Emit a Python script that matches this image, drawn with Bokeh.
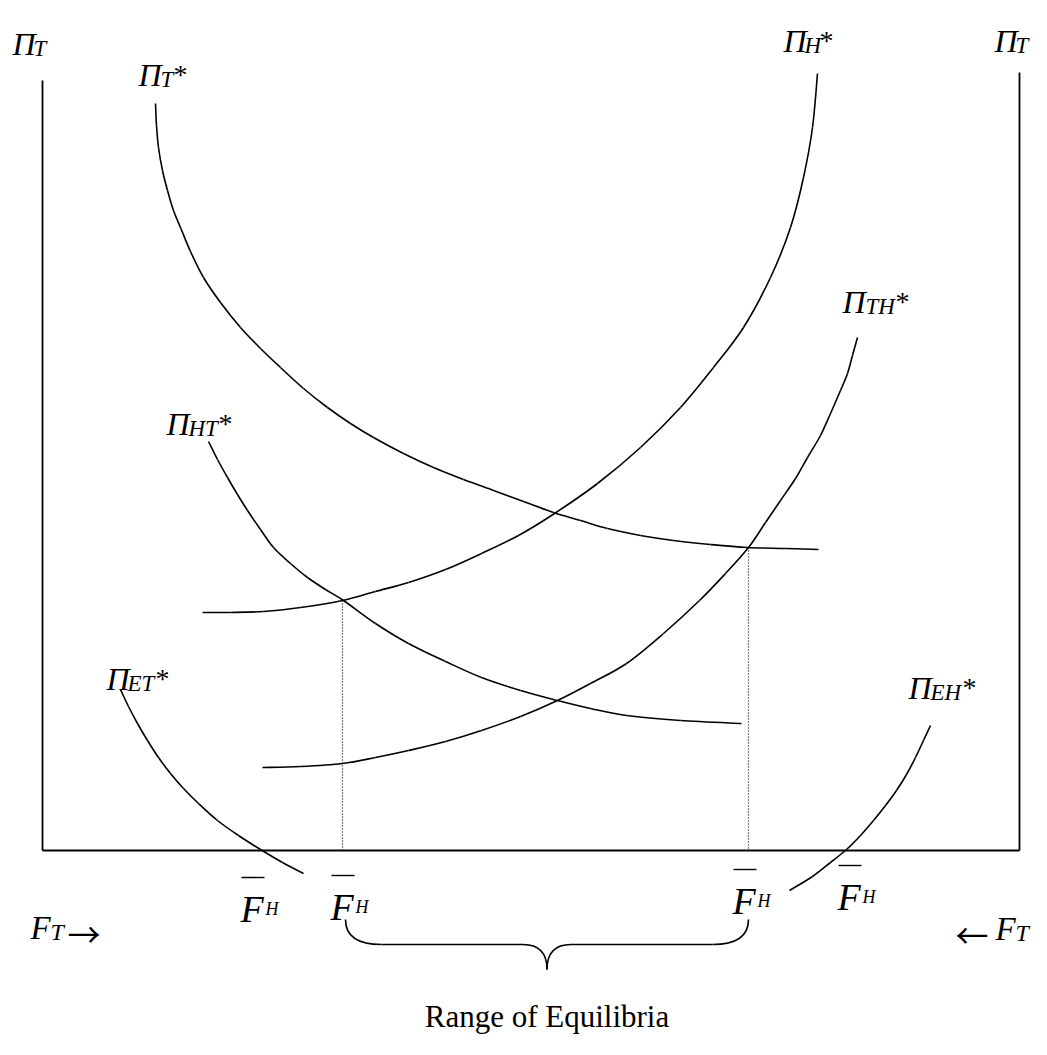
from bokeh.plotting import figure
from bokeh.models import Range1d
from bokeh.core.properties import value
from bokeh.embed import file_html
from bokeh.resources import INLINE

# ---- curves (pixel coordinates, y grows downward) ----
pi_t_star_x = [155, 156, 158, 162, 167, 173, 180, 190, 203, 220, 240, 260, 280, 303, 327, 350, 373,
               403, 433, 463, 493, 523, 553, 580, 607, 640, 673, 710, 747, 785, 818]
pi_t_star_y = [103, 125, 147, 170, 190, 210, 227, 251, 277, 302, 327, 348, 367, 388, 407, 423, 437,
               453, 467, 479, 490, 501, 512, 520, 528, 535, 540, 544, 547, 548, 549]

pi_h_star_x = [202, 230, 263, 300, 342, 375, 408, 445, 481, 518, 554, 597, 640, 680, 713, 743, 770,
               790, 803, 812, 817]
pi_h_star_y = [612, 612, 611, 607, 600, 591, 582, 569, 553, 535, 513, 483, 447, 407, 367, 327, 277,
               227, 177, 127, 73]

pi_ht_star_x = [208, 217, 227, 237, 247, 260, 273, 290, 307, 325, 343, 375, 408, 445, 481, 520, 557,
                590, 626, 680, 741]
pi_ht_star_y = [441, 459, 477, 494, 510, 529, 547, 563, 577, 589, 600, 623, 643, 661, 677, 690, 700,
                708, 715, 720, 723]

pi_th_star_x = [262, 300, 342, 375, 408, 445, 481, 520, 557, 590, 626, 663, 699, 725, 748, 765, 780,
                795, 807, 820, 830, 840, 847, 852, 857]
pi_th_star_y = [767, 766, 763, 757, 750, 741, 730, 716, 700, 683, 663, 633, 600, 573, 547, 522, 500,
                478, 457, 435, 413, 390, 373, 355, 337]

pi_et_star_x = [120, 128, 137, 147, 158, 170, 183, 198, 217, 238, 260, 282, 303]
pi_et_star_y = [689, 706, 723, 740, 757, 773, 788, 803, 820, 835, 849, 862, 873]

pi_eh_star_x = [930, 923, 915, 906, 896, 885, 873, 860, 846, 830, 812, 789]
pi_eh_star_y = [725, 740, 757, 774, 790, 805, 820, 835, 849, 862, 876, 890]

# frame of the box
axis_left_x = 42
axis_right_x = 1019
axis_bottom_y = 850
axis_left_top = 80
axis_right_top = 72

# equilibria (intersection points)
eq_x = [342, 748]
eq_y = [600, 547]

# label texts
pi_subs = ["T", "T", "H", "T", "TH", "HT", "ET", "EH"]
pi_stars = [False, True, True, False, True, True, True, True]
range_label = "Range of Equilibria"

FONT = "Liberation Serif"

p = figure(width=1031, height=1039, x_range=Range1d(0, 1031), y_range=Range1d(1039, 0),
           output_backend="svg", toolbar_location=None, min_border=0)
p.axis.visible = False
p.grid.visible = False
p.outline_line_color = None
p.background_fill_color = "white"
p.border_fill_color = "white"

# box
p.segment(x0=[axis_left_x, axis_right_x, axis_left_x], y0=[axis_left_top, axis_right_top, axis_bottom_y],
          x1=[axis_left_x, axis_right_x, axis_right_x], y1=[axis_bottom_y, axis_bottom_y, axis_bottom_y],
          line_color="black", line_width=1.8)


def smooth(xs, ys):
    """Draw a smooth curve through the read points with Bokeh's bezier glyph."""
    n = len(xs)
    x0, y0, x1, y1, c0x, c0y, c1x, c1y = [], [], [], [], [], [], [], []
    for i in range(n - 1):
        a = max(i - 1, 0)
        d = min(i + 2, n - 1)
        x0.append(xs[i]); y0.append(ys[i]); x1.append(xs[i + 1]); y1.append(ys[i + 1])
        c0x.append(xs[i] + (xs[i + 1] - xs[a]) / 6.0)
        c0y.append(ys[i] + (ys[i + 1] - ys[a]) / 6.0)
        c1x.append(xs[i + 1] - (xs[d] - xs[i]) / 6.0)
        c1y.append(ys[i + 1] - (ys[d] - ys[i]) / 6.0)
    p.bezier(x0=x0, y0=y0, x1=x1, y1=y1, cx0=c0x, cy0=c0y, cx1=c1x, cy1=c1y,
             line_color="black", line_width=1.6)


for xs, ys in [(pi_t_star_x, pi_t_star_y), (pi_h_star_x, pi_h_star_y), (pi_ht_star_x, pi_ht_star_y),
               (pi_th_star_x, pi_th_star_y), (pi_et_star_x, pi_et_star_y), (pi_eh_star_x, pi_eh_star_y)]:
    smooth(xs, ys)

# dotted drop lines
p.segment(x0=eq_x, y0=eq_y, x1=eq_x, y1=[axis_bottom_y] * 2, line_color="black",
          line_width=1.2, line_dash="1 2")

# brace under the range
bl, br = eq_x[0] + 3, eq_x[1]
bm = (bl + br) / 2
top, mid, tip = 919, 944, 969
p.quadratic(x0=[bl, bm - 24, bm, br], y0=[top, mid, tip, top],
            x1=[bl + 36, bm, bm + 24, br - 36], y1=[mid, tip, mid, mid],
            cx=[bl, bm, bm, br], cy=[mid, mid, mid, mid], line_color="black", line_width=1.6)
p.segment(x0=[bl + 36, bm + 24], y0=[mid, mid], x1=[bm - 24, br - 36], y1=[mid, mid],
          line_color="black", line_width=1.6)


def put(xs, ys, texts, size, style="italic", align="left", font=FONT):
    p.text(x=xs, y=ys, text=texts, text_font=value(font), text_font_size=value(f"{size}px"),
           text_font_style=style, text_baseline="alphabetic", text_align=align, text_color="black")


# Pi labels
pi_pos = [(12, 43, 33, None), (138, 74, 160, 173), (783, 40, 804, 819), (994, 40, 1015, None),
          (842, 301, 865, 895), (166, 423, 188, 218), (106, 678, 127, 155), (908, 687, 930, 962)]
put([a[0] for a in pi_pos], [a[1] for a in pi_pos], ["Π"] * len(pi_pos), 32)
put([a[2] for a in pi_pos], [a[1] + 5 for a in pi_pos], pi_subs, 23)
sx = [a[3] for a, s in zip(pi_pos, pi_stars) if s]
sy = [a[1] for a, s in zip(pi_pos, pi_stars) if s]
put(sx, sy, ["*"] * len(sx), 28, style="normal")

# F-bar H labels
fb = [(240, 908), (330, 906), (732, 900), (837, 896)]
put([a[0] for a in fb], [a[1] for a in fb], ["F"] * 4, 38)
put([a[0] + 25 for a in fb], [a[1] for a in fb], ["H"] * 4, 18)
p.segment(x0=[a[0] + 1 for a in fb], y0=[a[1] - 31 for a in fb], x1=[a[0] + 24 for a in fb],
          y1=[a[1] - 31 for a in fb], line_color="black", line_width=1.4)

# F_T arrows
put([30, 995], [927, 928], ["F", "F"], 33)
put([50, 1015], [931, 932], ["T", "T"], 24)
put([67, 955], [932, 933], ["→", "←"], 33, style="normal", font="Noto Sans CJK JP")

# range label
put([bm], [1016], [range_label], 31, style="normal", align="center")

open("out.html", "w").write(file_html(p, INLINE))
